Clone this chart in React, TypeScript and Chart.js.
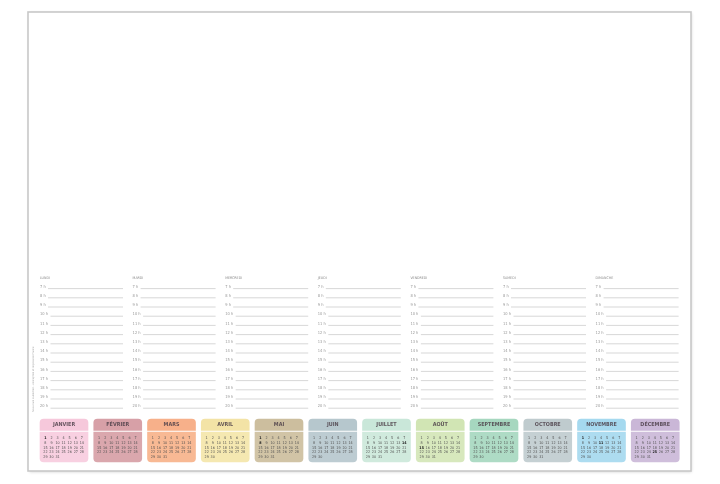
import React, { useEffect, useRef } from "react";
import { Chart, registerables } from "chart.js";

Chart.register(...registerables);

// ---------- data ----------
const dayNames = ["LUNDI", "MARDI", "MERCREDI", "JEUDI", "VENDREDI", "SAMEDI", "DIMANCHE"];
const hourLabels = ["7 h", "8 h", "9 h", "10 h", "11 h", "12 h", "13 h", "14 h", "15 h", "16 h", "17 h", "18 h", "19 h", "20 h"];
const monthNames = ["JANVIER", "FÉVRIER", "MARS", "AVRIL", "MAI", "JUIN", "JUILLET", "AOÛT", "SEPTEMBRE", "OCTOBRE", "NOVEMBRE", "DÉCEMBRE"];
const monthLengths = [31, 28, 31, 30, 31, 30, 31, 31, 30, 31, 30, 31];
const holidays = [[1], [], [], [], [1, 8], [], [14], [15], [], [], [1, 11], [25]];
const headerColors = ["#f6c8db", "#d7a0a7", "#f7b08a", "#f3e3a6", "#ccbe9e", "#b6c7cd", "#c9e7d9", "#d1e5b4", "#a6d7bf", "#bfcbce", "#a5d9ef", "#cab7d7"];
const bodyColors = ["#f8d0e1", "#daa7ad", "#f8b994", "#f5e8b1", "#d1c4a6", "#bdccd2", "#d0eadd", "#d7e8bd", "#aedbc5", "#c5d0d3", "#addcf0", "#cfbedb"];

// ---------- layout ----------
const W = 720;
const H = 484;
const FRAME = { l: 28, t: 12, r: 691, b: 471 };
const DAY_X0 = 40;
const DAY_STEP = 92.6;
const DAY_W = 83;
const HEAD_Y = 277.6;
const ROW_Y0 = 288.6;
const ROW_STEP = 9.2;
const M_X0 = 40;
const M_STEP = 53.75;
const M_W = 48;
const M_HEAD = [419, 430.5];
const M_BODY = [432, 462];

const rowY = (i: number) => ROW_Y0 + i * ROW_STEP;
const dayX = (d: number) => DAY_X0 + d * DAY_STEP;
const monthCenter = (i: number) => M_X0 + i * M_STEP + M_W / 2;

const COND = '"DejaVu Sans Condensed", "Liberation Sans Narrow", "DejaVu Sans", sans-serif';

const pagePlugin = {
  id: "page",
  beforeDatasetsDraw(chart: any) {
    const { ctx } = chart;
    const x = chart.scales.x;
    const y = chart.scales.y;
    const l = x.getPixelForValue(FRAME.l);
    const r = x.getPixelForValue(FRAME.r);
    const t = y.getPixelForValue(FRAME.t);
    const b = y.getPixelForValue(FRAME.b);
    ctx.save();
    ctx.shadowColor = "rgba(0,0,0,0.18)";
    ctx.shadowBlur = 3;
    ctx.shadowOffsetX = 0.5;
    ctx.shadowOffsetY = 1;
    ctx.fillStyle = "#ffffff";
    ctx.fillRect(l, t, r - l, b - t);
    ctx.restore();
    ctx.save();
    ctx.strokeStyle = "#c8c8c8";
    ctx.lineWidth = 1.6;
    ctx.strokeRect(l, t, r - l, b - t);
    ctx.restore();
  },
  afterDatasetsDraw(chart: any) {
    const { ctx } = chart;
    const xs = chart.scales.x;
    const ys = chart.scales.y;
    const px = (v: number) => xs.getPixelForValue(v);
    const py = (v: number) => ys.getPixelForValue(v);
    ctx.save();

    // day headers + hour labels
    ctx.textAlign = "left";
    dayNames.forEach((name, d) => {
      ctx.fillStyle = "#8c8c8c";
      ctx.font = `3.6px ${COND}`;
      ctx.textBaseline = "middle";
      ctx.fillText(name, px(dayX(d)), py(HEAD_Y));
      ctx.font = `4px ${COND}`;
      ctx.textBaseline = "bottom";
      ctx.fillStyle = "#999999";
      hourLabels.forEach((h, i) => {
        ctx.fillText(h, px(dayX(d)), py(rowY(i) + 0.2));
      });
    });

    // month names and day numbers
    monthNames.forEach((name, i) => {
      const cx = px(monthCenter(i));
      ctx.textAlign = "center";
      ctx.textBaseline = "middle";
      ctx.fillStyle = "rgba(75,62,72,0.85)";
      ctx.font = `bold 5.4px ${COND}`;
      ctx.fillText(name, cx, py((M_HEAD[0] + M_HEAD[1]) / 2 + 0.3));
      const left = M_X0 + i * M_STEP;
      for (let dday = 1; dday <= monthLengths[i]; dday++) {
        const col = (dday - 1) % 7;
        const row = Math.floor((dday - 1) / 7);
        const hol = holidays[i].includes(dday);
        ctx.fillStyle = hol ? "#222222" : "#4e4e4e";
        ctx.font = `${hol ? "bold " : ""}3.7px ${COND}`;
        ctx.fillText(String(dday), px(left + 5.4 + col * 6.07), py(437.8 + row * 4.9));
      }
    });

    // vertical small print
    ctx.translate(px(33.6), py(412));
    ctx.rotate(-Math.PI / 2);
    ctx.textAlign = "left";
    ctx.textBaseline = "middle";
    ctx.fillStyle = "#a8a8a8";
    ctx.font = `2.6px ${COND}`;
    ctx.fillText("Sous-main calendrier – conception et impression France", 0, 0);
    ctx.restore();
  },
};

export default function App() {
  const ref = useRef<HTMLCanvasElement | null>(null);

  useEffect(() => {
    if (!ref.current) return;

    const lineSets = dayNames.map((name, d) => ({
      type: "line" as const,
      label: name,
      data: hourLabels.flatMap((h, i) => [
        { x: dayX(d) + (h.length > 3 ? 10.5 : 8), y: rowY(i) },
        { x: dayX(d) + DAY_W, y: rowY(i) },
        { x: dayX(d) + DAY_W, y: null as any },
      ]),
      borderColor: "#bcbcbc",
      borderWidth: 0.6,
      pointRadius: 0,
      spanGaps: false,
      tension: 0,
      order: 2,
    }));

    const chart = new Chart(ref.current, {
      type: "bar",
      data: {
        datasets: [
          {
            type: "bar" as const,
            label: "mois",
            data: monthNames.map((m, i) => ({ x: monthCenter(i), y: M_HEAD })) as any,
            backgroundColor: headerColors,
            borderWidth: 0,
            borderSkipped: false,
            borderRadius: { topLeft: 4, topRight: 4, bottomLeft: 0, bottomRight: 0 },
            barThickness: M_W,
            grouped: false,
            order: 1,
          },
          {
            type: "bar" as const,
            label: "jours",
            data: monthNames.map((m, i) => ({ x: monthCenter(i), y: M_BODY })) as any,
            backgroundColor: bodyColors,
            borderWidth: 0,
            borderSkipped: false,
            borderRadius: { topLeft: 0, topRight: 0, bottomLeft: 4, bottomRight: 4 },
            barThickness: M_W,
            grouped: false,
            order: 1,
          },
          ...lineSets,
        ] as any,
      },
      options: {
        animation: false,
        responsive: true,
        maintainAspectRatio: false,
        events: [],
        layout: { padding: 0 },
        plugins: {
          legend: { display: false },
          title: { display: false },
          tooltip: { enabled: false },
        },
        scales: {
          x: { type: "linear", min: 0, max: W, display: false, offset: false, grid: { offset: false } },
          y: { type: "linear", min: 0, max: H, reverse: true, display: false, offset: false },
        },
      },
      plugins: [pagePlugin],
    });

    return () => chart.destroy();
  }, []);

  return (
    <div style={{ position: "fixed", left: 0, top: 0, width: W, height: H, background: "#ffffff" }}>
      <canvas ref={ref} />
    </div>
  );
}
